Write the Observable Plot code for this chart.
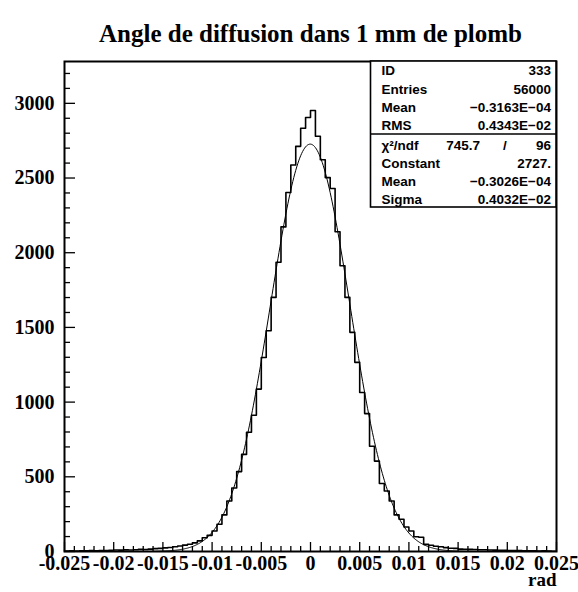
<!DOCTYPE html>
<html>
<head>
<meta charset="utf-8">
<script src="https://cdn.jsdelivr.net/npm/d3@7"></script>
<script src="https://cdn.jsdelivr.net/npm/@observablehq/plot@0.6"></script>
<style>
  body { margin: 0; background: #fff; }
  #chart svg { display: block; }
</style>
</head>
<body>
<div id="chart"></div>
<script>
// ---- data ----
const title = "Angle de diffusion dans 1 mm de plomb";
const xAxisLabel = "rad";
const binLow = -0.025;
const binHigh = 0.025;
const binWidth = 0.0005;
const counts = [
  3, 4, 3, 5, 4, 6, 5, 7, 6, 8,
  10, 9, 11, 10, 12, 14, 13, 16, 19, 21,
  24, 27, 32, 37, 43, 49, 58, 71, 92, 108,
  137, 182, 245, 338, 425, 535, 650, 798, 912, 1087,
  1299, 1478, 1701, 1936, 2173, 2403, 2587, 2712, 2833, 2905,
  2952, 2780, 2622, 2503, 2430, 2140, 1913, 1701, 1467, 1266,
  1064, 923, 705, 605, 455, 405, 338, 245, 216, 164,
  137, 99, 95, 48, 42, 35, 32, 26, 22, 21,
  16, 15, 14, 13, 12, 12, 10, 9, 8, 8,
  7, 6, 6, 5, 4, 5, 3, 4, 3, 2
];
const xTicks = [-0.025, -0.02, -0.015, -0.01, -0.005, 0, 0.005, 0.01, 0.015, 0.02, 0.025];
const xTickLabels = ["-0.025", "-0.02", "-0.015", "-0.01", "-0.005", "0", "0.005", "0.01", "0.015", "0.02", "0.025"];
const xMinorTicks = [-0.024,-0.023,-0.022,-0.021,-0.019,-0.018,-0.017,-0.016,-0.014,-0.013,-0.012,-0.011,-0.009,-0.008,-0.007,-0.006,-0.004,-0.003,-0.002,-0.001,0.001,0.002,0.003,0.004,0.006,0.007,0.008,0.009,0.011,0.012,0.013,0.014,0.016,0.017,0.018,0.019,0.021,0.022,0.023,0.024];
const yTicks = [0, 500, 1000, 1500, 2000, 2500, 3000];
const yTickLabels = ["0", "500", "1000", "1500", "2000", "2500", "3000"];
const yMinorTicks = [100,200,300,400,600,700,800,900,1100,1200,1300,1400,1600,1700,1800,1900,2100,2200,2300,2400,2600,2700,2800,2900,3100,3200];
const yMax = 3280;
// Gaussian fit parameters (from the stats box)
const fitConstant = 2727;
const fitMean = -0.3026e-4;
const fitSigma = 0.4032e-2;
// stats box
const statsTopLabels = ["ID", "Entries", "Mean", "RMS"];
const statsTopValues = ["333", "56000", "\u22120.3163E\u221204", "0.4343E\u221202"];
const chiLabel = "\u03c7\u00b2/ndf";
const chiValue = "745.7";
const chiNdf = "96";
const statsBottomLabels = ["Constant", "Mean", "Sigma"];
const statsBottomValues = ["2727.", "\u22120.3026E\u221204", "0.4032E\u221202"];

// ---- derived tables ----
const steps = counts.map((c, k) => ({x: binLow + k * binWidth, y: c}));
steps.push({x: binHigh, y: counts[counts.length - 1]});
const fitX = d3.range(0, 501).map(i => binLow + i * (binHigh - binLow) / 500);
const fitCurve = fitX.map(x => ({x, y: fitConstant * Math.exp(-0.5 * ((x - fitMean) / fitSigma) ** 2)}));

const W = 578, H = 592;
const mL = 64, mR = 22, mT = 61, mB = 41;
const frameW = W - mL - mR, frameH = H - mT - mB;

const serif = "'Liberation Serif', 'Times New Roman', Times, serif";
const sans = "'Liberation Sans', Arial, Helvetica, sans-serif";

function statsBox(index, scales, values, dims) {
  const d = dims || {width: W, marginRight: mR, marginTop: mT};
  const right = d.width - d.marginRight;
  const top = d.marginTop;
  const w = 185.5, h = 146, sep = 73;
  const g = d3.create("svg:g")
    .attr("font-family", sans)
    .attr("font-size", 13.5)
    .attr("font-weight", "bold")
    .attr("fill", "black");
  g.append("rect").attr("x", right - w).attr("y", top).attr("width", w).attr("height", h)
    .attr("fill", "white").attr("stroke", "black").attr("stroke-width", 1.6);
  g.append("line").attr("x1", right - w).attr("x2", right).attr("y1", top + sep).attr("y2", top + sep)
    .attr("stroke", "black").attr("stroke-width", 1.6);
  const topRows = [9, 28.3, 46.7, 64];
  const botRows = [102.3, 120.7, 138];
  const lx = right - w + 11, rx = right - 5;
  const label = (x, y, t, anchor) => g.append("text").attr("x", x).attr("y", y)
    .attr("dy", "0.35em").attr("text-anchor", anchor).text(t);
  statsTopLabels.forEach((t, i) => {
    label(lx, top + topRows[i], t, "start");
    label(rx, top + topRows[i], statsTopValues[i], "end");
  });
  const cy = top + 84;
  label(lx, cy, chiLabel, "start");
  label(right - 76, cy, chiValue, "end");
  label(right - 51, cy, "/", "middle");
  label(rx, cy, chiNdf, "end");
  statsBottomLabels.forEach((t, i) => {
    label(lx, top + botRows[i], t, "start");
    label(rx, top + botRows[i], statsBottomValues[i], "end");
  });
  return g.node();
}

const labelStyle = {fontFamily: serif, fontWeight: "bold", fontSize: 20, fill: "black"};

const chart = Plot.plot({
  width: W,
  height: H,
  marginLeft: mL,
  marginRight: mR,
  marginTop: mT,
  marginBottom: mB,
  style: {background: "white", color: "black", fontFamily: serif},
  x: {domain: [binLow, binHigh], axis: null},
  y: {domain: [0, yMax], axis: null},
  marks: [
    // fit curve
    Plot.line(fitCurve, {x: "x", y: "y", stroke: "black", strokeWidth: 1}),
    // histogram outline
    Plot.line(steps, {x: "x", y: "y", curve: "step-after", stroke: "black", strokeWidth: 1.6}),
    // inside ticks
    Plot.tickX(xTicks, {x: d => d, insetTop: frameH - 9, stroke: "black", strokeWidth: 1.3}),
    Plot.tickX(xMinorTicks, {x: d => d, insetTop: frameH - 5, stroke: "black", strokeWidth: 1.3}),
    Plot.tickY(yTicks, {y: d => d, insetRight: frameW - 11, stroke: "black", strokeWidth: 1.3}),
    Plot.tickY(yMinorTicks, {y: d => d, insetRight: frameW - 6, stroke: "black", strokeWidth: 1.3}),
    // tick labels
    Plot.text(xTicks, {x: d => d, frameAnchor: "bottom", text: (d, i) => xTickLabels[i], dy: 18, ...labelStyle}),
    Plot.text(yTicks, {y: d => d, frameAnchor: "left", text: (d, i) => yTickLabels[i], dx: -10, textAnchor: "end", ...labelStyle}),
    // axis label
    Plot.text([xAxisLabel], {frameAnchor: "bottom-right", dy: 34, textAnchor: "end", ...labelStyle, fontSize: 19}),
    // title
    Plot.text([title], {frameAnchor: "top", dy: -37, ...labelStyle, fontSize: 25}),
    // frame
    Plot.frame({stroke: "black", strokeWidth: 2}),
    // statistics box
    statsBox
  ]
});
document.getElementById("chart").append(chart);
</script>
</body>
</html>
